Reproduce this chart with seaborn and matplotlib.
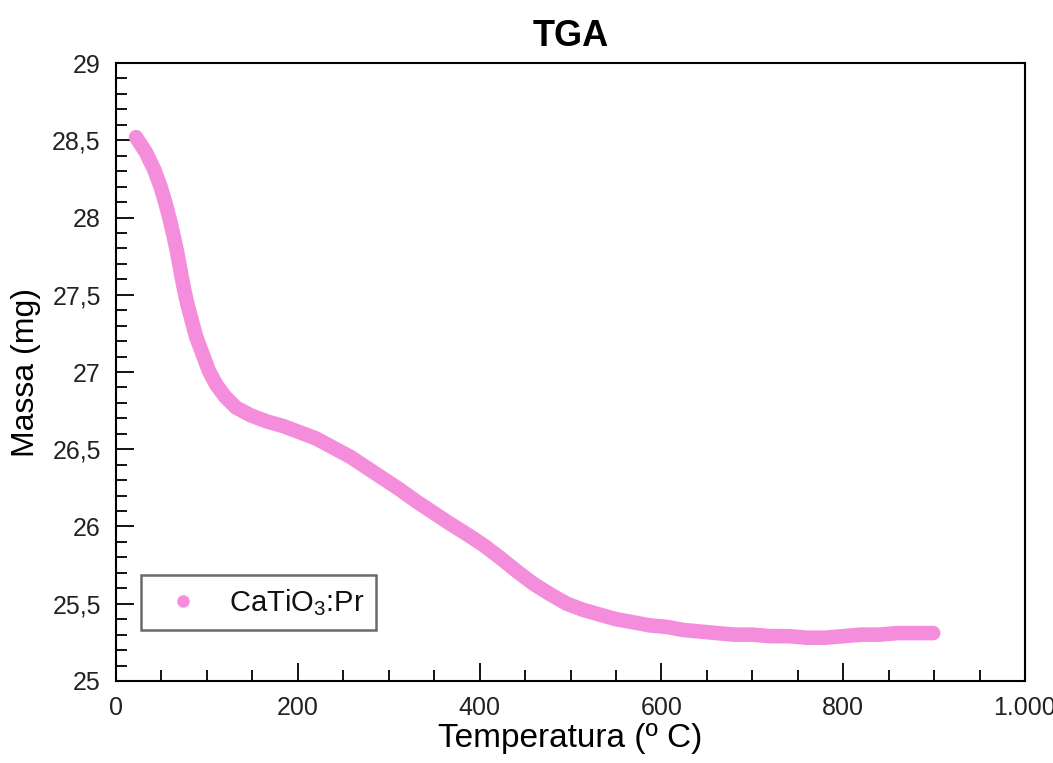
import matplotlib
matplotlib.use("Agg")
import matplotlib.pyplot as plt
import seaborn as sns
import pandas as pd
from matplotlib.ticker import MultipleLocator, FuncFormatter
from matplotlib.lines import Line2D

# Data (temperature in °C, mass in mg)
temperatura = [22, 33, 42, 49, 54.5, 59, 63, 67, 70.5, 74, 78, 83, 88, 95, 102, 110,
               120, 132, 148, 166, 184, 202, 220, 239, 258, 276, 294, 312, 331,
               349, 367, 386, 404, 422, 441, 459, 478, 496, 514, 532, 550, 569,
               587, 606, 624, 643, 661, 680, 700, 720, 740, 760, 780, 800, 820,
               840, 860, 880, 899]
massa = [28.52, 28.42, 28.31, 28.20, 28.09, 27.99, 27.89, 27.78, 27.67, 27.56,
         27.45, 27.34, 27.23, 27.12, 27.01, 26.92, 26.84, 26.77, 26.72, 26.68,
         26.65, 26.61, 26.57, 26.51, 26.45, 26.38, 26.31, 26.24, 26.16, 26.09,
         26.02, 25.95, 25.88, 25.80, 25.71, 25.63, 25.56, 25.50, 25.46, 25.43,
         25.40, 25.38, 25.36, 25.35, 25.33, 25.32, 25.31, 25.30, 25.30, 25.29,
         25.29, 25.28, 25.28, 25.29, 25.30, 25.30, 25.31, 25.31, 25.31]
serie = "CaTiO$_\\mathregular{3}$:Pr"

df = pd.DataFrame({"Temperatura": temperatura, "Massa": massa})

sns.set_theme(style="white")
plt.rcParams["font.family"] = ["Liberation Sans", "DejaVu Sans"]
plt.rcParams["mathtext.fontset"] = "custom"
plt.rcParams["mathtext.rm"] = "Liberation Sans"

color = "#F48EDC"

fig = plt.figure(figsize=(10.53, 7.63), dpi=100)
ax = fig.add_axes([0.1102, 0.1075, 0.8632, 0.8099])

sns.lineplot(data=df, x="Temperatura", y="Massa", sort=False, color=color,
             linewidth=10.5, solid_capstyle="round", solid_joinstyle="round",
             ax=ax, legend=False)

ax.set_xlim(0, 1000)
ax.set_ylim(25, 29)

ax.xaxis.set_major_locator(MultipleLocator(200))
ax.xaxis.set_minor_locator(MultipleLocator(50))
ax.yaxis.set_major_locator(MultipleLocator(0.5))
ax.yaxis.set_minor_locator(MultipleLocator(0.1))

def xfmt(v, pos):
    v = int(round(v))
    return f"{v:,}".replace(",", ".")

def yfmt(v, pos):
    s = f"{v:.1f}"
    if s.endswith(".0"):
        s = s[:-2]
    return s.replace(".", ",")

ax.xaxis.set_major_formatter(FuncFormatter(xfmt))
ax.yaxis.set_major_formatter(FuncFormatter(yfmt))

ax.tick_params(axis="both", which="major", direction="in", length=13, width=1.3,
               color="black", labelsize=18, labelcolor="#222222", pad=11,
               bottom=True, left=True, top=False, right=False)
ax.tick_params(axis="both", which="minor", direction="in", length=8, width=1.3,
               color="black", bottom=True, left=True, top=False, right=False)

for sp in ax.spines.values():
    sp.set_visible(True)
    sp.set_color("black")
    sp.set_linewidth(1.5)

ax.set_xlabel("Temperatura (º C)", fontsize=24, color="black", labelpad=2)
ax.set_ylabel("Massa (mg)", fontsize=23, color="black", labelpad=8)
ax.set_title("TGA", fontsize=26, fontweight="bold", color="black", pad=12)

handle = Line2D([], [], linestyle="none", marker="o", markersize=8,
                markerfacecolor=color, markeredgecolor=color)
leg = ax.legend([handle], [serie], loc="lower left",
                bbox_to_anchor=(0.027, 0.082), borderaxespad=0,
                prop={"size": 21}, frameon=True, fancybox=False,
                handletextpad=0.55, borderpad=0.42, handlelength=2.05)
leg.get_frame().set_edgecolor("#444444")
leg.get_frame().set_linewidth(1.8)
for t in leg.get_texts():
    t.set_color("#111111")

fig.savefig("out.png", dpi=100, facecolor="white")
